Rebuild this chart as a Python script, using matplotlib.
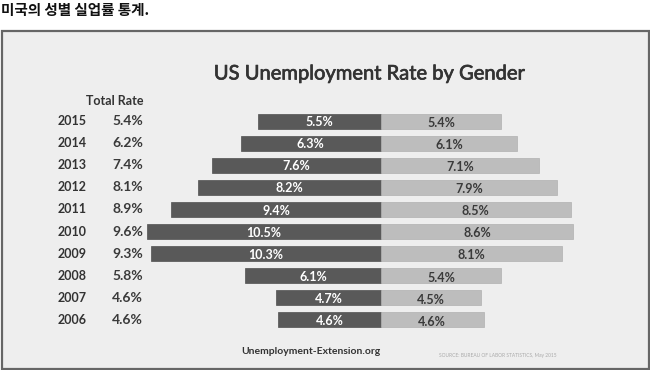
import matplotlib
matplotlib.use("Agg")
import matplotlib.pyplot as plt
import matplotlib.transforms as mtransforms
import matplotlib.patheffects as pe
from matplotlib.patches import Rectangle
import numpy as np

years = ["2015", "2014", "2013", "2012", "2011", "2010", "2009", "2008", "2007", "2006"]
total_rate = [5.4, 6.2, 7.4, 8.1, 8.9, 9.6, 9.3, 5.8, 4.6, 4.6]
male_rate = [5.5, 6.3, 7.6, 8.2, 9.4, 10.5, 10.3, 6.1, 4.7, 4.6]
female_rate = [5.4, 6.1, 7.1, 7.9, 8.5, 8.6, 8.1, 5.4, 4.5, 4.6]

W, H = 650, 370
fig = plt.figure(figsize=(6.5, 3.7), dpi=100)
fig.patch.set_facecolor("white")

LAT = ["Lato", "DejaVu Sans"]

# korean caption above the scanned chart
fig.text(1 / W, 1 - 15 / H, "미국의 성별 실업률 통계.", fontsize=10.5, fontweight="bold",
         family=["Noto Sans CJK KR", "DejaVu Sans"], color="#111111", va="baseline")

# scanned panel box (kept behind the axes)
fig.patches.append(Rectangle((1.5 / W, 1.5 / H), 647 / W, (H - 32) / H, transform=fig.transFigure,
                             facecolor="#eeeeee", edgecolor="#666666", lw=1.6, zorder=-5))

# bar axes: centre line at x=381 px, 22.3 px per percent, rows 22.1 px apart
ppu = 22.3
x0, x1 = 140, 620
ax = fig.add_axes([x0 / W, 1 - 331 / H, (x1 - x0) / W, 221 / H])
ax.set_zorder(2)
ax.patch.set_visible(False)
ax.set_xlim(-(381 - x0) / ppu, (x1 - 381) / ppu)
ax.set_ylim(9.5, -0.5)
ax.axis("off")

y = np.arange(len(years))
m = np.array(male_rate)
f = np.array(female_rate)
ax.barh(y, -m, height=0.68, color="#595959", edgecolor="#505050", lw=0.5)
ax.barh(y, f, height=0.68, color="#bdbdbd", edgecolor="#b0b0b0", lw=0.5)

for yi, mv, fv in zip(y, m, f):
    ax.text(-mv / 2, yi + 0.05, f"{mv:.1f}%", ha="center", va="center", fontsize=9,
            fontweight="bold", color="white", family=LAT)
    ax.text(fv / 2, yi + 0.08, f"{fv:.1f}%", ha="center", va="center", fontsize=9,
            fontweight="bold", color="#3a3a3a", family=LAT)

# left-hand columns: year and total rate
tr = mtransforms.blended_transform_factory(fig.transFigure, ax.transData)
for yi, yr, tv in zip(y, years, total_rate):
    ax.text(72 / W, yi, yr, transform=tr, ha="center", va="center", fontsize=9,
            fontweight="bold", color="#333333", family=LAT, clip_on=False)
    ax.text(143 / W, yi, f"{tv:.1f}%", transform=tr, ha="right", va="center", fontsize=10,
            fontweight="bold", color="#3a3a3a", family=LAT, clip_on=False)
fig.text(144 / W, 1 - 101 / H, "Total Rate", ha="right", va="center", fontsize=9,
         fontweight="bold", color="#333333", family=LAT)

fig.text(369 / W, 1 - 74 / H, "US Unemployment Rate by Gender", ha="center", va="center",
         fontsize=14.5, color="#333333", family=LAT,
         path_effects=[pe.withStroke(linewidth=0.5, foreground="#333333")])

fig.text(311 / W, 1 - 351 / H, "Unemployment-Extension.org", ha="center", va="center",
         fontsize=7.5, fontweight="bold", color="#333333", family=LAT)
fig.text(498 / W, 1 - 355 / H, "SOURCE: BUREAU OF LABOR STATISTICS, May 2015", ha="center",
         va="center", fontsize=3.5, color="#aaaaaa", family=LAT)

fig.savefig("out.png", dpi=100, facecolor=fig.get_facecolor())
